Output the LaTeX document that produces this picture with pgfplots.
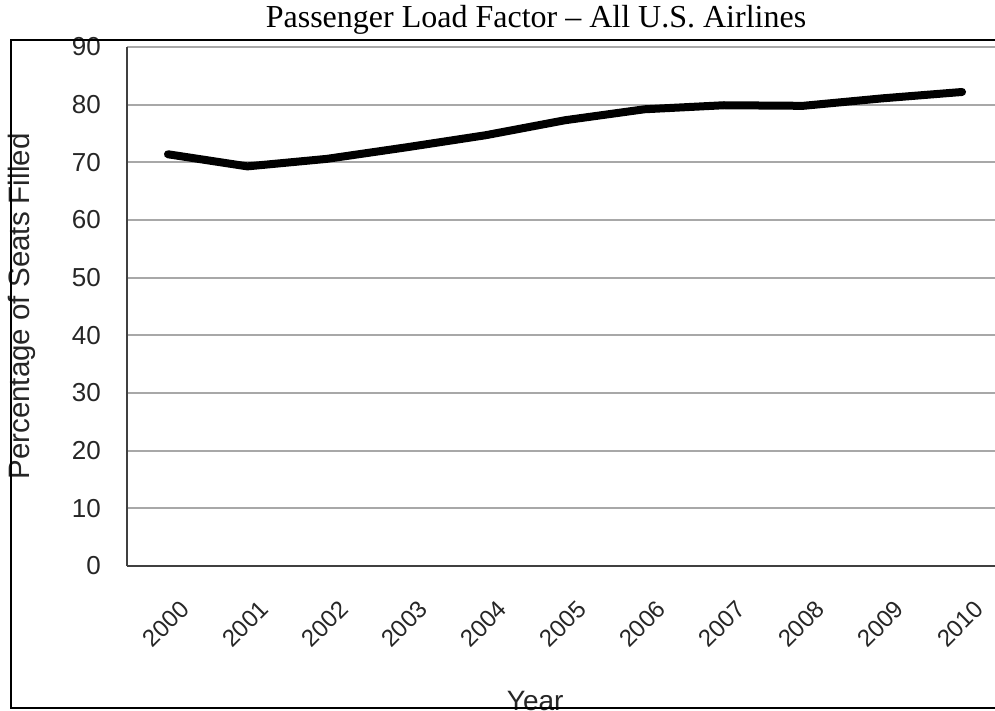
\documentclass[border=0pt]{standalone}
\usepackage{pgfplots}
\pgfplotsset{compat=1.18}
\usepackage{fontspec}
\setmainfont{Liberation Serif}
\newfontfamily\arial{Liberation Sans}

\definecolor{gridgray}{HTML}{A8A8A8}
\definecolor{axisgray}{HTML}{404040}

\begin{document}
\begin{tikzpicture}
\useasboundingbox (0pt,0pt) rectangle (995pt,710pt);

% title
\node[anchor=base, font=\fontsize{32}{32}\selectfont] at (536pt,682pt)
  {Passenger Load Factor -- All U.S. Airlines};

\begin{axis}[
  at={(127pt,144pt)}, anchor=south west,
  width=876pt, height=519pt, scale only axis,
  xmin=-0.516, xmax=10.516,
  ymin=0, ymax=90,
  axis x line=bottom, axis y line=left,
  axis line style={-, axisgray, line width=2pt},
  xtick={0,...,10},
  xticklabels={2000,2001,2002,2003,2004,2005,2006,2007,2008,2009,2010},
  ytick={0,10,...,90},
  major tick length=0pt,
  ymajorgrids,
  grid style={gridgray, line width=1.8pt},
  /pgf/number format/assume math mode=true,
  yticklabel style={anchor=east, inner sep=0pt, xshift=-26pt,
    font=\arial\fontsize{26}{26}\selectfont, text=black!85},
  xticklabel style={anchor=center, inner sep=0pt, xshift=-2pt, yshift=-58pt, rotate=45,
    font=\arial\fontsize{24}{24}\selectfont, text=black!85},
  ylabel={Percentage of Seats Filled},
  ylabel style={at={(axis description cs:-0.12,0.5)}, anchor=center,
    font=\arial\fontsize{29.5}{29.5}\selectfont, text=black!85},
  xlabel={Year},
  xlabel style={at={(axis description cs:0.466,-0.2775)}, anchor=base,
    font=\arial\fontsize{28}{28}\selectfont, text=black!85},
]
\addplot[black, line width=8pt, line cap=round, line join=round] coordinates {
  (0,71.4) (1,69.3) (2,70.6) (3,72.6) (4,74.7) (5,77.3)
  (6,79.2) (7,79.9) (8,79.8) (9,81.1) (10,82.2)
};
\end{axis}

% outer frame
\draw[black, line width=2pt] (1010pt,670pt) -- (11pt,670pt) -- (11pt,2pt) -- (1010pt,2pt);
\end{tikzpicture}
\end{document}
